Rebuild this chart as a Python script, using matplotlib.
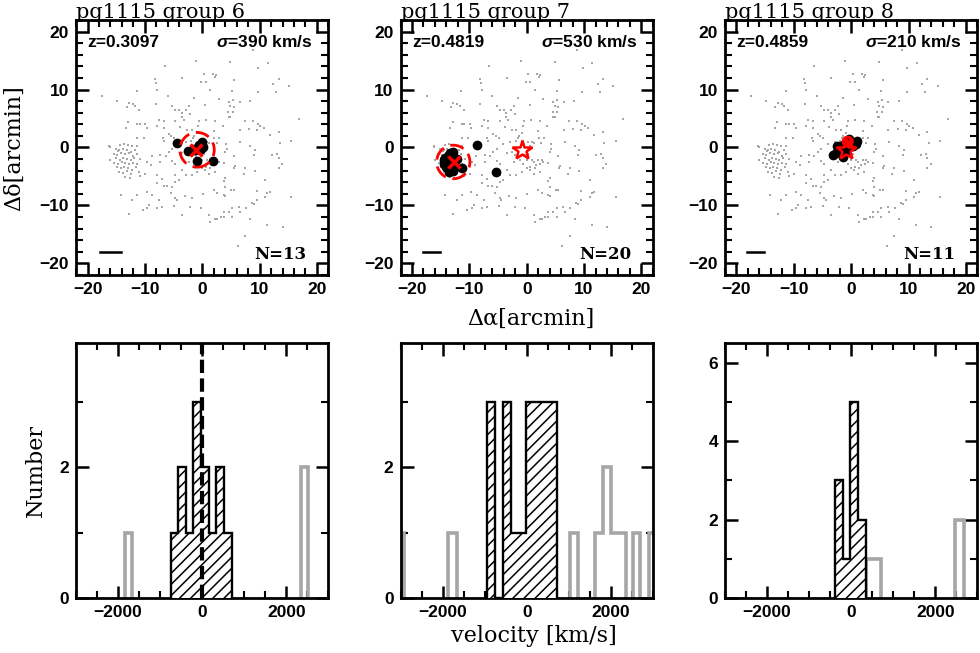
import matplotlib
matplotlib.use('Agg')
import matplotlib.pyplot as plt
from matplotlib.patches import Circle
from matplotlib.ticker import MultipleLocator

# ---------------- data ----------------
group_names = ['pg1115 group 6', 'pg1115 group 7', 'pg1115 group 8']
redshifts = ['z=0.3097', 'z=0.4819', 'z=0.4859']
sigmas = [390, 530, 210]
n_members = [13, 20, 11]

# background field galaxies (arcmin), same in every panel
field_pts = [
    # upper-left
    (-6.5, 14.0), (-8.2, 11.9), (-8.0, 11.1), (-7.8, 9.9), (-11.4, 9.8), (-17.4, 8.8), (-14.8, 8.0),
    (-12.8, 7.6), (-12.1, 7.5), (-11.7, 7.2), (-13.2, 6.9), (-11.0, 6.5), (-8.1, 7.5), (-5.2, 7.1),
    (-4.7, 6.4), (-4.0, 6.5), (-3.6, 5.9), (-2.8, 6.4), (-2.1, 5.8), (-2.3, 7.1), (-3.6, 5.2),
    (-3.2, 4.8), (-4.7, 4.5), (-3.8, 3.6), (-2.6, 3.0), (-1.8, 3.0), (-0.9, 2.5), (-7.5, 4.8),
    (-6.7, 4.5), (-6.7, 3.4), (-7.8, 3.7), (-12.9, 4.4), (-11.3, 4.0), (-10.9, 4.0), (-9.9, 4.0),
    (-9.7, 3.4), (-13.3, 3.3), (-5.8, 2.3), (-5.4, 1.9), (-4.9, 1.6), (-1.6, 1.6), (-1.4, 1.9),
    (-1.9, 1.1), (-2.9, 0.9), (-4.1, 0.6), (-11.3, 1.7), (-10.2, 1.7), (-6.9, 1.6), (-6.7, 1.2),
    (-16.2, 0.3), (-11.3, 0.2), (-1.0, 15.0), (-3.5, 12.0), (-0.2, 11.3), (-1.5, 8.6), (-0.7, 3.7),
    (-0.5, 4.5), (-6.0, 8.9),
    # upper-right
    (8.8, 16.9), (4.9, 14.8), (11.4, 14.5), (9.8, 13.8), (0.3, 12.7), (1.8, 12.6), (2.4, 12.5),
    (2.2, 12.2), (5.6, 11.7), (0.6, 11.3), (13.3, 11.9), (12.4, 10.9), (15.1, 10.6), (1.4, 9.9),
    (5.2, 9.8), (12.8, 9.5), (9.7, 9.6), (2.9, 8.3), (4.6, 7.9), (6.5, 7.9), (8.3, 8.1), (5.3, 8.2),
    (0.5, 7.3), (4.9, 7.1), (5.5, 6.9), (4.5, 6.1), (5.3, 6.1), (4.9, 5.3), (4.6, 5.2), (0.7, 4.8),
    (2.3, 4.6), (7.4, 4.6), (8.8, 4.6), (9.7, 4.1), (10.1, 3.7), (10.7, 3.4), (9.5, 3.1), (16.8, 5.0),
    (2.0, 2.9), (3.6, 3.7), (6.5, 3.0), (8.1, 3.2), (13.3, 2.7), (11.8, 2.2), (15.5, 1.1), (0.3, 0.9),
    (0.9, 1.0), (1.2, 0.7), (2.1, 1.6), (3.0, 1.6), (2.5, 0.7), (4.2, 0.6), (8.4, 0.2), (13.5, 0.7),
    (6.6, 0.9),
    # lower-left
    (-15.1, -0.2), (-14.5, -0.4), (-16.1, 0.0), (-7.3, -1.3), (-6.4, -1.5), (-5.8, -0.8), (-5.2, -0.2),
    (-7.3, -2.5), (-5.2, -2.3), (-4.7, -2.8), (-3.5, -1.0), (-2.6, -0.8), (-2.1, -1.3), (-2.3, -2.5),
    (-1.2, -2.2), (-0.3, -1.3), (-0.6, -2.8), (0.0, -3.6), (-3.5, -3.9), (-2.9, -4.8), (-4.7, -4.8),
    (-4.1, -5.6), (-1.8, -4.8), (-0.9, -4.2), (-9.6, -2.5), (-9.0, -3.1), (-7.8, -4.8), (-6.7, -6.7),
    (-6.1, -6.7), (-7.8, -6.2), (-5.2, -6.8), (-4.7, -5.9), (-7.0, -5.4), (-14.2, -8.2), (-11.3, -8.2),
    (-12.2, -9.1), (-8.7, -8.2), (-7.5, -9.1), (-4.7, -8.8), (-4.4, -9.1), (-1.8, -8.8), (-2.1, -10.2),
    (-0.3, -10.5), (-10.4, -10.8), (-9.6, -10.5), (-9.2, -9.9), (-7.8, -10.4), (-7.0, -10.2),
    (-4.9, -10.1), (-3.5, -11.7), (-12.8, -11.5), (-8.8, -1.4), (-10.9, -5.0), (-9.9, -4.6),
    (-3.0, -8.3), (-5.5, -7.9), (-9.7, -7.6),
    # lower-right
    (0.3, -1.05), (0.9, -2.1), (1.2, -2.5), (2.0, -2.2), (2.4, -2.8), (2.9, -2.5), (1.7, -3.1),
    (0.6, -3.3), (1.4, -3.5), (0.5, -3.8), (2.3, -4.2), (1.2, -4.5), (0.0, -2.1), (2.6, -2.1),
    (3.8, -2.7), (4.0, -0.8), (4.3, -0.2), (5.5, -1.5), (5.8, -3.2), (5.6, -3.6), (7.5, -3.6),
    (7.2, -4.6), (9.2, -4.0), (9.0, -1.3), (9.2, -0.5), (12.1, -1.3), (13.0, -1.05), (13.3, -1.9),
    (13.9, -2.8), (13.3, -3.6), (4.0, -5.2), (3.8, -5.8), (11.0, -5.6), (2.0, -7.3), (2.6, -7.9),
    (4.0, -6.9), (5.1, -7.3), (5.5, -7.3), (3.8, -8.2), (4.0, -8.4), (9.5, -7.5), (11.3, -7.9),
    (11.8, -7.7), (11.0, -8.5), (15.5, -8.6), (0.1, -8.1), (8.6, -9.6), (9.0, -9.7), (9.5, -9.1),
    (7.6, -10.5), (6.4, -10.2), (5.2, -10.4), (4.6, -11.1), (3.8, -11.1), (3.2, -12.0), (2.6, -12.3),
    (1.4, -12.8), (2.3, -12.4), (1.2, -11.7), (3.8, -12.0), (5.2, -12.0), (6.6, -11.1), (8.4, -12.3),
    (11.3, -13.3), (14.0, -13.8), (7.5, -15.2), (6.2, -17.0),
    # dense clump at the left
    (-14.3, 0.4), (-13.6, 0.6), (-12.9, 0.5), (-12.2, 0.3), (-15.1, -0.3), (-14.6, -0.6), (-13.9, -0.2),
    (-13.2, -0.4), (-12.5, -0.7), (-11.8, -0.5), (-15.4, -1.1), (-14.8, -1.3), (-14.1, -1.0),
    (-13.5, -1.2), (-12.8, -1.0), (-12.1, -1.4), (-11.4, -1.1), (-15.0, -1.9), (-14.4, -2.1),
    (-13.8, -1.8), (-13.1, -2.0), (-12.5, -2.2), (-11.9, -1.9), (-15.3, -2.6), (-14.7, -2.8),
    (-14.0, -2.5), (-13.4, -2.7), (-12.7, -2.9), (-12.0, -2.6), (-11.3, -2.8), (-14.9, -3.4),
    (-14.2, -3.6), (-13.6, -3.3), (-12.9, -3.5), (-12.3, -3.8), (-11.6, -3.4), (-14.5, -4.2),
    (-13.8, -4.4), (-13.1, -4.1), (-12.4, -4.5), (-13.4, -5.1), (-12.6, -5.3), (-11.0, -4.2),
    (-10.8, -2.0), (-16.0, -2.2),
    # near centre
    (-0.5, 0.5), (0.6, 0.3), (-1.0, -1.5), (0.2, -0.5), (-1.6, -0.6),
]
field_x = [p[0] for p in field_pts]
field_y = [p[1] for p in field_pts]

members_x = [
    [-4.4, -2.4, -0.9, 1.8, -0.1, -0.4, -0.8, -0.3, 0.0, -1.2, -0.6, 0.2, -1.5],
    [-13.3, -12.8, -14.2, -14.5, -13.9, -13.3, -13.6, -12.5, -13.0, -11.3, -13.8, -14.0, -12.9,
     -13.5, -12.2, -14.4, -13.1, -12.6, -8.6, -5.4],
    [-3.2, -2.7, -2.4, -1.5, -2.0, -1.4, -0.3, 1.1, 0.9, 0.3, -0.8],
]
members_y = [
    [0.8, -0.6, -2.3, -2.4, 0.9, 0.2, -0.3, -0.2, 0.4, -0.5, 0.5, 0.1, -0.2],
    [-0.9, -0.8, -1.9, -2.8, -2.5, -3.1, -4.2, -3.3, -2.2, -3.5, -1.4, -3.4, -4.0,
     -3.8, -2.0, -2.2, -1.5, -2.7, 0.5, -4.2],
    [-1.3, -1.0, 0.3, -1.6, -0.4, 0.4, 1.5, 1.2, 0.6, 0.2, -0.4],
]
center_x = [-1.0, -12.6, -0.6]
center_y = [-0.4, -2.5, 0.9]
circle_x = [-0.9, -12.8, -0.6]
circle_y = [-0.4, -2.5, 1.0]
circle_r = [3.0, 2.9, 0.8]
circle_dashed = [True, True, False]
star_x, star_y = -0.9, -0.5
show_star = [False, True, True]
scalebar_x0 = [-17.9, -18.1, -18.1]
scalebar_x1 = [-14.2, -15.2, -15.2]

# velocity histograms (km/s)
member_edges = [
    [-754, -572, -390, -208, -26, 156, 338, 520, 702],
    [-936, -751, -566, -381, -196, -11, 174, 359, 544, 729],
    [-387, -202, -17, 168, 353],
]
member_counts = [
    [1, 2, 1, 3, 2, 1, 2, 1],
    [3, 0, 3, 1, 1, 3, 3, 3, 3],
    [3, 1, 5, 2],
]
field_edges = [
    [-1846, -1664, 2340, 2522],
    [-3048, -2920, -1864, -1664, 1032, 1216, 1616, 1816, 2016, 2360, 2536, 2696, 2896, 3060],
    [353, 719, 2473, 2694],
]
field_counts = [
    [1, 0, 2],
    [1, 0, 1, 0, 1, 0, 1, 2, 1, 0, 1, 0, 1],
    [1, 0, 2],
]
hist_ymax = [3.9, 3.9, 6.5]
yticks_major = [[0, 2], [0, 2], [0, 2, 4, 6]]

# ---------------- style ----------------
plt.rcParams['font.family'] = ['Liberation Sans', 'DejaVu Sans']
plt.rcParams['font.weight'] = 'bold'
plt.rcParams['mathtext.fontset'] = 'custom'
plt.rcParams['mathtext.it'] = 'Liberation Sans:italic:bold'
plt.rcParams['mathtext.rm'] = 'Liberation Sans:bold'
plt.rcParams['hatch.linewidth'] = 1.1
plt.rcParams['axes.linewidth'] = 2.0

SERIF = ['DejaVu Serif', 'DejaVu Sans']
GREY = '#a6a6a6'

fig = plt.figure(figsize=(9.8, 6.53), dpi=100)
lefts = [0.0776, 0.4087, 0.7398]
width = 0.2575
top_b, bot_b, h = 0.5789, 0.0842, 0.3905


def style_ticks(ax):
    ax.tick_params(which='both', direction='in', top=True, right=True, labelsize=12.5)
    ax.tick_params(which='major', length=9, width=1.8, pad=5)
    ax.tick_params(which='minor', length=5, width=1.5)


def draw_runs(ax, edges, counts, **kw):
    n = len(counts)
    i = 0
    while i < n:
        if counts[i] > 0:
            j = i
            while j < n and counts[j] > 0:
                j += 1
            ax.stairs(counts[i:j], edges[i:j + 1], baseline=0, **kw)
            i = j
        else:
            i += 1


for k in range(3):
    # ---- sky panel ----
    ax = fig.add_axes([lefts[k], top_b, width, h])
    ax.scatter(field_x, field_y, s=3.8, marker='s', color=GREY, linewidths=0, zorder=1)
    ax.plot(members_x[k], members_y[k], 'o', color='black', ms=6, zorder=3)
    ls = (0, (5, 2.5)) if circle_dashed[k] else '-'
    ax.add_patch(Circle((circle_x[k], circle_y[k]), circle_r[k], fill=False,
                        edgecolor='red', lw=2, ls=ls, zorder=4))
    ax.plot([center_x[k]], [center_y[k]], 'x', color='red', ms=9 if k < 2 else 6, mew=2.5, zorder=5)
    if show_star[k]:
        ax.plot([star_x], [star_y], '*', ms=15, mfc='none', mec='red', mew=1.8, zorder=5)
    ax.plot([scalebar_x0[k], scalebar_x1[k]], [-18, -18], color='black', lw=1.8)
    ax.set_xlim(-22, 22)
    ax.set_ylim(-22, 22)
    ax.xaxis.set_major_locator(MultipleLocator(10))
    ax.xaxis.set_minor_locator(MultipleLocator(2))
    ax.yaxis.set_major_locator(MultipleLocator(10))
    ax.yaxis.set_minor_locator(MultipleLocator(2))
    style_ticks(ax)
    ax.text(-20, 17.3, redshifts[k], fontsize=12.5, weight='bold', ha='left', va='baseline')
    ax.text(19.3, 17.3, r'$\sigma$=%d km/s' % sigmas[k], fontsize=12.5, weight='bold',
            ha='right', va='baseline')
    ax.text(18.2, -19.2, 'N=%d' % n_members[k], fontsize=12, weight='bold', family=SERIF,
            ha='right', va='baseline')
    ax.text(0.0, 1.008, group_names[k], transform=ax.transAxes, ha='left', va='baseline',
            family=SERIF, fontsize=15, weight='normal')

    # ---- velocity histogram ----
    bx = fig.add_axes([lefts[k], bot_b, width, h])
    draw_runs(bx, field_edges[k], field_counts[k], color=GREY, lw=2.6, zorder=2)
    bx.stairs(member_counts[k], member_edges[k], baseline=0, fill=True, facecolor='white',
              edgecolor='black', hatch='///', lw=1.7, zorder=3)
    if k == 0:
        bx.axvline(0, color='black', lw=3, ls=(0, (3.2, 1.3)), zorder=4)
    bx.set_xlim(-3000, 3000)
    bx.set_ylim(0, hist_ymax[k])
    bx.set_xticks([-2000, 0, 2000])
    bx.xaxis.set_minor_locator(MultipleLocator(500))
    bx.set_yticks(yticks_major[k])
    bx.yaxis.set_minor_locator(MultipleLocator(1))
    style_ticks(bx)

fig.text(0.0145, 0.773, 'Δδ[arcmin]', rotation=90, ha='center', va='center',
         family=SERIF, fontsize=16, weight='normal')
fig.text(0.542, 0.511, 'Δα[arcmin]', ha='center', va='center',
         family=SERIF, fontsize=16, weight='normal')
fig.text(0.037, 0.279, 'Number', rotation=90, ha='center', va='center',
         family=SERIF, fontsize=16, weight='normal')
fig.text(0.545, 0.026, 'velocity [km/s]', ha='center', va='center',
         family=SERIF, fontsize=16, weight='normal')

fig.savefig('out.png', dpi=100)
